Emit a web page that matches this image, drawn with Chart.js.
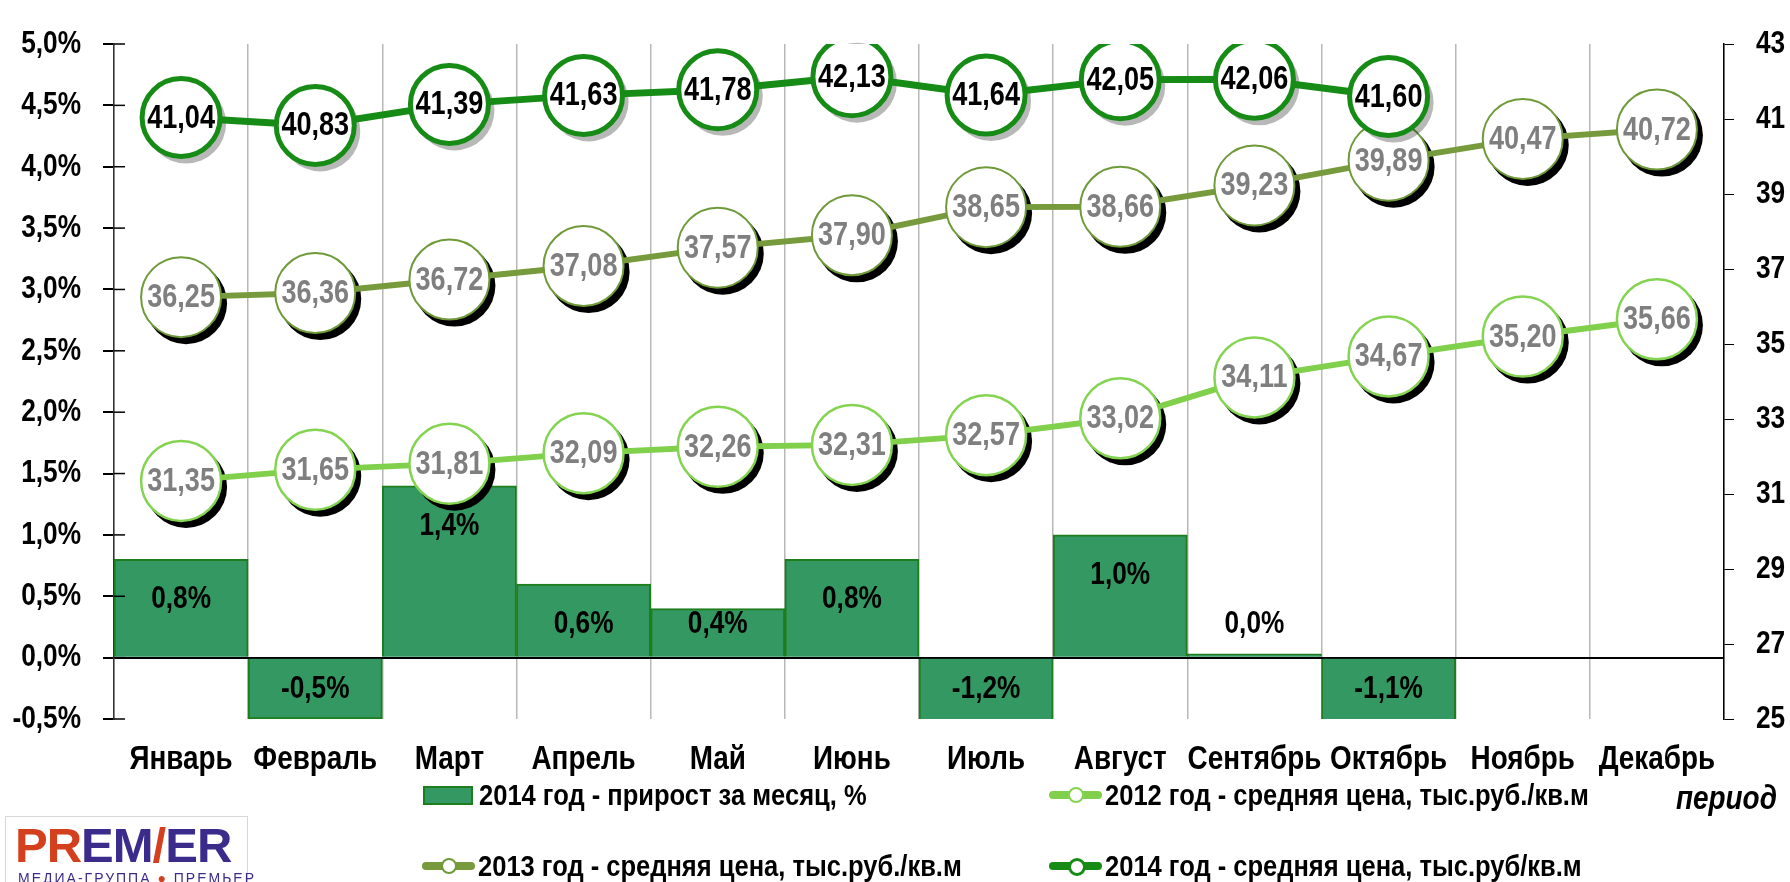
<!DOCTYPE html>
<html lang="ru">
<head>
<meta charset="utf-8">
<title>Средняя цена, тыс.руб./кв.м</title>
<script src="https://cdn.jsdelivr.net/npm/chart.js@4.4.1/dist/chart.umd.min.js"></script>
<style>
  html, body { margin: 0; padding: 0; background: #fff; }
  #wrap { position: relative; width: 1790px; height: 882px; overflow: hidden; }
  #wrap canvas { position: absolute; left: 0; top: 0; }
  .narrow { font-family: 'Liberation Sans', Arial, sans-serif; font-weight: bold; color: #000; }
  .nt { display: inline-block; transform: scaleX(0.82); transform-origin: 0 50%; white-space: nowrap; }
  .leg { position: absolute; display: flex; align-items: center; font-size: 29px; white-space: nowrap; height: 30px; }
  .leg .nt { transform: scaleX(0.88); }
  .leg .mk { position: relative; flex: none; width: 53px; height: 30px; margin-right: 3px; }
  .leg .bx { position: absolute; left: 0; top: 6px; width: 46px; height: 15px; border: 2px solid #1e7e1e; }
  .leg .ln { position: absolute; left: 0; top: 11px; width: 53px; height: 8px; border-radius: 4px; }
  .leg .dot { position: absolute; left: 19px; top: 7px; width: 12px; height: 12px; border-radius: 50%; background: #fff; }
  #period { position: absolute; left: 1676px; top: 778px; font-size: 34px; font-style: italic; }
  #logo { position: absolute; left: 5px; top: 816px; width: 241px; height: 70px; border: 1px solid #d8d8d8; background: #fff; }
  #logo .brand { position: absolute; left: 9px; top: 4px; font-family: 'Liberation Sans', Arial, sans-serif; font-weight: 900; font-size: 49px; letter-spacing: -1px; line-height: 48px; white-space: nowrap; }
  #logo .r { color: #d4401e; }
  #logo .b { color: #3b2c8c; }
  #logo .sub { position: absolute; left: 12px; top: 53px; font-family: 'Liberation Sans', Arial, sans-serif; font-size: 14px; letter-spacing: 2px; color: #3b2c8c; white-space: nowrap; }
</style>
</head>
<body>
<div id="wrap">
  <canvas id="chart" width="1790" height="882"></canvas>
  <div id="legend"></div>
  <div id="period" class="narrow"><span class="nt">период</span></div>
  <div id="logo">
    <div class="brand"><span class="r">PR</span><span class="b">EM</span><span class="r">/</span><span class="b">ER</span></div>
    <div class="sub">МЕДИА-ГРУППА <span class="r">●</span> ПРЕМЬЕР</div>
  </div>
</div>
<script>
// months on the category axis
const months = ['Январь', 'Февраль', 'Март', 'Апрель', 'Май', 'Июнь', 'Июль', 'Август', 'Сентябрь', 'Октябрь', 'Ноябрь', 'Декабрь'];

// 2014 monthly growth, % (left axis)
const growth2014 = [0.8, -0.5, 1.4, 0.6, 0.4, 0.8, -1.2, 1.0, 0.03, -1.1, null, null];

// average price, thousand rub per sq.m (right axis)
const price2012 = [31.35, 31.65, 31.81, 32.09, 32.26, 32.31, 32.57, 33.02, 34.11, 34.67, 35.20, 35.66];
const price2013 = [36.25, 36.36, 36.72, 37.08, 37.57, 37.90, 38.65, 38.66, 39.23, 39.89, 40.47, 40.72];
const price2014 = [41.04, 40.83, 41.39, 41.63, 41.78, 42.13, 41.64, 42.05, 42.06, 41.60, null, null];

const seriesNames = [
  '2014 год - прирост за месяц, %',
  '2012 год - средняя цена, тыс.руб./кв.м',
  '2013 год - средняя цена, тыс.руб./кв.м',
  '2014 год - средняя цена, тыс.руб/кв.м'
];

const FONT = "'Liberation Sans', Arial, sans-serif";
Chart.defaults.font.family = FONT;
Chart.defaults.font.weight = 'bold';

function comma(v, digits) {
  return v.toFixed(digits).replace('.', ',');
}

// Arial Narrow look: bold Liberation Sans squeezed horizontally
function narrowText(ctx, text, x, y, align, size, color) {
  ctx.save();
  ctx.font = 'bold ' + size + 'px ' + FONT;
  ctx.fillStyle = color;
  ctx.textAlign = align;
  ctx.textBaseline = 'middle';
  ctx.translate(x, y);
  ctx.scale(0.82, 1);
  ctx.fillText(text, 0, 0);
  ctx.restore();
}

// shadow under the round markers
const markerShadow = {
  id: 'markerShadow',
  beforeDatasetDraw(chart, args) {
    const ds = chart.data.datasets[args.index];
    if (ds.type !== 'line') return;
    const ctx = chart.ctx;
    ctx.save();
    ctx.fillStyle = ds.shadowColor;
    args.meta.data.forEach(pt => {
      if (pt.skip) return;
      ctx.beginPath();
      ctx.arc(pt.x + 5, pt.y + 6, ds.pointRadius + 1, 0, Math.PI * 2);
      ctx.fill();
    });
    ctx.restore();
  }
};

// value labels inside circles and on bars
const valueLabels = {
  id: 'valueLabels',
  afterDatasetDraw(chart, args) {
    const ds = chart.data.datasets[args.index];
    const ctx = chart.ctx;
    const area = chart.chartArea;
    if (ds.type === 'line') {
      args.meta.data.forEach((pt, i) => {
        if (pt.skip || ds.data[i] == null) return;
        narrowText(ctx, comma(ds.data[i], 2), pt.x, pt.y + 1, 'center', 33, ds.labelColor);
      });
    } else {
      args.meta.data.forEach((bar, i) => {
        const v = ds.data[i];
        if (v == null) return;
        let y;
        if (v >= 0) {
          y = Math.min(bar.y + 40, bar.base - 32);
        } else {
          y = (bar.base + Math.min(bar.y, area.bottom)) / 2;
        }
        narrowText(ctx, comma(v, 1) + '%', bar.x, y, 'center', 32, '#000');
      });
    }
  }
};

// tick labels of all three axes, placed from the scales' own ticks
const axisLabels = {
  id: 'axisLabels',
  afterDraw(chart) {
    const ctx = chart.ctx;
    const { x, y, y1 } = chart.scales;
    x.ticks.forEach((t, i) => {
      narrowText(ctx, String(x.getLabelForValue(t.value)), x.getPixelForTick(i), x.top + 41, 'center', 34, '#000');
    });
    y.ticks.forEach(t => {
      narrowText(ctx, comma(t.value, 1) + '%', y.right - 33, y.getPixelForValue(t.value), 'right', 32, '#000');
    });
    y1.ticks.forEach(t => {
      narrowText(ctx, String(t.value), y1.left + 32, y1.getPixelForValue(t.value), 'left', 32, '#000');
    });
    // left axis tick marks cross the axis line
    ctx.save();
    ctx.strokeStyle = '#000';
    ctx.lineWidth = 1.5;
    y.ticks.forEach(t => {
      const py = y.getPixelForValue(t.value);
      ctx.beginPath();
      ctx.moveTo(y.right, py);
      ctx.lineTo(y.right + 11, py);
      ctx.stroke();
    });
    ctx.restore();
  }
};

const hidden = 'rgba(0,0,0,0)';

const chart = new Chart(document.getElementById('chart'), {
  data: {
    labels: months,
    datasets: [
      {
        type: 'bar',
        label: seriesNames[0],
        data: growth2014,
        yAxisID: 'y',
        backgroundColor: '#349862',
        borderColor: '#1e7e1e',
        borderWidth: 2,
        barPercentage: 1,
        categoryPercentage: 1,
        order: 4
      },
      {
        type: 'line',
        label: seriesNames[1],
        data: price2012,
        yAxisID: 'y1',
        borderColor: '#80d04c',
        borderWidth: 6,
        pointRadius: 40,
        pointHoverRadius: 40,
        pointBackgroundColor: '#fff',
        pointBorderColor: '#84d452',
        pointBorderWidth: 2.5,
        shadowColor: '#000',
        labelColor: '#7f7f7f',
        order: 3
      },
      {
        type: 'line',
        label: seriesNames[2],
        data: price2013,
        yAxisID: 'y1',
        borderColor: '#779a3c',
        borderWidth: 6,
        pointRadius: 40,
        pointHoverRadius: 40,
        pointBackgroundColor: '#fff',
        pointBorderColor: '#6f9a3a',
        pointBorderWidth: 2,
        shadowColor: '#000',
        labelColor: '#7f7f7f',
        order: 2
      },
      {
        type: 'line',
        label: seriesNames[3],
        data: price2014,
        yAxisID: 'y1',
        borderColor: '#168c16',
        borderWidth: 7,
        pointRadius: 39,
        pointHoverRadius: 39,
        pointBackgroundColor: '#fff',
        pointBorderColor: '#168c16',
        pointBorderWidth: 5,
        shadowColor: 'rgba(0,0,0,0.28)',
        labelColor: '#000',
        order: 1
      }
    ]
  },
  options: {
    responsive: false,
    animation: false,
    layout: { padding: { top: 25, left: 0, right: 0, bottom: 0 } },
    plugins: {
      legend: { display: false },
      tooltip: { enabled: false }
    },
    scales: {
      x: {
        offset: true,
        grid: { offset: true, color: '#b8b8b8', lineWidth: 1.5, drawTicks: false },
        border: { display: false },
        ticks: { color: hidden, font: { size: 32 }, padding: 24, maxRotation: 0, autoSkip: false },
        afterFit(scale) { scale.height = 163; }
      },
      y: {
        position: 'left',
        min: -0.5,
        max: 5.0,
        ticks: { stepSize: 0.5, color: hidden, font: { size: 30 }, padding: 20 },
        grid: {
          color: c => (c.tick && Math.abs(c.tick.value) < 1e-9) ? '#000' : hidden,
          lineWidth: 2,
          tickColor: '#000',
          tickLength: 11
        },
        border: { color: '#333', width: 1.5 },
        afterFit(scale) { scale.width = 114; }
      },
      y1: {
        position: 'right',
        min: 25,
        max: 43,
        ticks: { stepSize: 2, color: hidden, font: { size: 30 }, padding: 20 },
        grid: { drawOnChartArea: false, tickColor: '#000', tickLength: 10 },
        border: { color: '#000', width: 1.5 },
        afterFit(scale) { scale.width = 66; }
      }
    }
  },
  plugins: [markerShadow, valueLabels, axisLabels]
});

// legend in two rows, two columns as in the original
const legendPlaces = [
  { left: 423, top: 780 },
  { left: 1049, top: 780 },
  { left: 422, top: 851 },
  { left: 1049, top: 851 }
];
const legendBox = document.getElementById('legend');
chart.data.datasets.forEach((ds, i) => {
  const item = document.createElement('div');
  item.className = 'leg narrow';
  item.style.left = legendPlaces[i].left + 'px';
  item.style.top = legendPlaces[i].top + 'px';
  let mark;
  if (ds.type === 'bar') {
    mark = `<span class="mk"><span class="bx" style="background:${ds.backgroundColor}"></span></span>`;
  } else {
    const bw = Math.min(ds.pointBorderWidth, 3);
    mark = `<span class="mk"><span class="ln" style="background:${ds.borderColor}"></span>` +
      `<span class="dot" style="border:${bw}px solid ${ds.pointBorderColor}"></span></span>`;
  }
  item.innerHTML = mark + `<span class="nt">${ds.label}</span>`;
  legendBox.appendChild(item);
});
</script>
</body>
</html>
